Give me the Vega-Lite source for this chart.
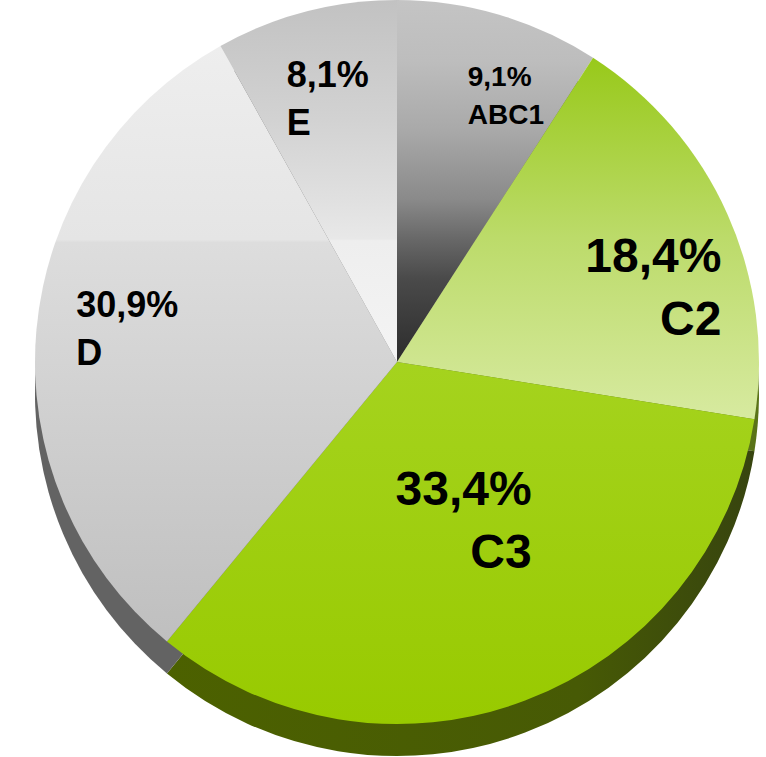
{
  "$schema": "https://vega.github.io/schema/vega-lite/v6.json",
  "width": 724,
  "height": 724,
  "autosize": {"type": "none"},
  "padding": {"left": 35, "top": 0, "right": 7, "bottom": 33},
  "background": "white",
  "view": {"stroke": null},
  "data": {
    "values": [
      {"cat": "ABC1", "share": 9.1, "label": "9,1%\nABC1"},
      {"cat": "C2", "share": 18.4, "label": "18,4%\nC2"},
      {"cat": "C3", "share": 33.4, "label": "33,4%\nC3"},
      {"cat": "D", "share": 30.9, "label": "30,9%\nD"},
      {"cat": "E", "share": 8.1, "label": "8,1%\nE"}
    ]
  },
  "encoding": {
    "theta": {"field": "share", "type": "quantitative", "stack": true},
    "order": {"field": "cat", "type": "nominal", "sort": "ascending"}
  },
  "layer": [
    {
      "mark": {"type": "arc", "radius": 362, "yOffset": 32},
      "encoding": {
        "color": {
          "condition": [
            {"test": "datum.cat === 'C3'", "value": {"gradient": "linear", "x1": 0, "y1": 0, "x2": 1, "y2": 0, "stops": [{"offset": 0, "color": "#4c6100"}, {"offset": 0.7, "color": "#475a05"}, {"offset": 1, "color": "#37440f"}]}},
            {"test": "datum.cat === 'D'", "value": "#636363"},
            {"test": "datum.cat === 'C2'", "value": "#5a7318"}
          ],
          "value": "#6a6a6a"
        }
      }
    },
    {
      "mark": {"type": "arc", "radius": 362},
      "encoding": {
        "color": {
          "condition": [
            {"test": "datum.cat === 'ABC1'", "value": {"gradient": "linear", "x1": 0, "y1": 0, "x2": 0, "y2": 1, "stops": [{"offset": 0, "color": "#c4c4c4"}, {"offset": 0.17, "color": "#bdbdbd"}, {"offset": 0.36, "color": "#a9a9a9"}, {"offset": 0.55, "color": "#8a8a8a"}, {"offset": 0.66, "color": "#686868"}, {"offset": 0.77, "color": "#4a4a4a"}, {"offset": 1, "color": "#2c2c2c"}]}},
            {"test": "datum.cat === 'C2'", "value": {"gradient": "linear", "x1": 0, "y1": 0, "x2": 0, "y2": 1, "stops": [{"offset": 0, "color": "#98c91a"}, {"offset": 0.5, "color": "#bcdb6a"}, {"offset": 1, "color": "#d7eaa0"}]}},
            {"test": "datum.cat === 'C3'", "value": {"gradient": "linear", "x1": 0, "y1": 0, "x2": 0, "y2": 1, "stops": [{"offset": 0, "color": "#a5d31e"}, {"offset": 1, "color": "#98ca00"}]}},
            {"test": "datum.cat === 'D'", "value": {"gradient": "linear", "x1": 0, "y1": 0, "x2": 0, "y2": 1, "stops": [{"offset": 0, "color": "#eeeeee"}, {"offset": 0.325, "color": "#e5e5e5"}, {"offset": 0.33, "color": "#dddddd"}, {"offset": 1, "color": "#bfbfbf"}]}}
          ],
          "value": {"gradient": "linear", "x1": 0, "y1": 0, "x2": 0, "y2": 1, "stops": [{"offset": 0, "color": "#c2c2c2"}, {"offset": 0.33, "color": "#d2d2d2"}, {"offset": 0.55, "color": "#e0e0e0"}, {"offset": 0.66, "color": "#e8e8e8"}, {"offset": 0.665, "color": "#eeeeee"}, {"offset": 1, "color": "#f4f4f4"}]}
        }
      }
    },
    {
      "mark": {"type": "text", "radius": 286, "align": "left", "baseline": "alphabetic", "dx": -10, "dy": -2, "fontSize": 28, "fontWeight": "bold", "font": "Liberation Sans", "lineBreak": "\n", "lineHeight": 38, "color": "#000000"},
      "encoding": {"text": {"condition": {"test": "datum.cat === 'ABC1'", "field": "label", "type": "nominal"}, "value": ""}}
    },
    {
      "mark": {"type": "text", "radius": 283, "align": "left", "baseline": "alphabetic", "dx": -39, "dy": -1, "fontSize": 36, "fontWeight": "bold", "font": "Liberation Sans", "lineBreak": "\n", "lineHeight": 48, "color": "#000000"},
      "encoding": {"text": {"condition": {"test": "datum.cat === 'E'", "field": "label", "type": "nominal"}, "value": ""}}
    },
    {
      "mark": {"type": "text", "radius": 322, "align": "left", "baseline": "alphabetic", "dx": 0, "dy": -16, "fontSize": 36, "fontWeight": "bold", "font": "Liberation Sans", "lineBreak": "\n", "lineHeight": 48, "color": "#000000"},
      "encoding": {"text": {"condition": {"test": "datum.cat === 'D'", "field": "label", "type": "nominal"}, "value": ""}}
    },
    {
      "mark": {"type": "text", "radius": 340, "align": "right", "baseline": "alphabetic", "dx": 14, "dy": 49, "fontSize": 48, "fontWeight": "bold", "font": "Liberation Sans", "lineBreak": "\n", "lineHeight": 63, "color": "#000000"},
      "encoding": {"text": {"condition": {"test": "datum.cat === 'C2'", "field": "label", "type": "nominal"}, "value": ""}}
    },
    {
      "mark": {"type": "text", "radius": 160, "align": "right", "baseline": "alphabetic", "dx": 78, "dy": -7, "fontSize": 48, "fontWeight": "bold", "font": "Liberation Sans", "lineBreak": "\n", "lineHeight": 63, "color": "#000000"},
      "encoding": {"text": {"condition": {"test": "datum.cat === 'C3'", "field": "label", "type": "nominal"}, "value": ""}}
    }
  ]
}
